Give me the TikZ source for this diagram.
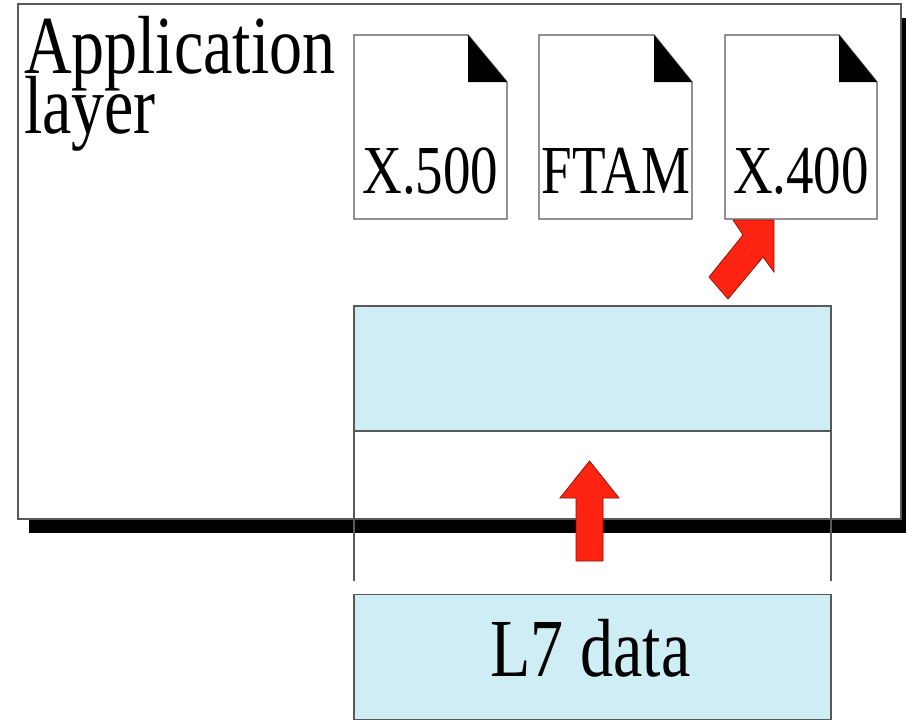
\documentclass[tikz,border=0pt]{standalone}
\usepackage{fontspec}
\usepackage{graphicx}
\usepackage{xcolor}
\setmainfont{Liberation Serif}
\definecolor{paleblue}{HTML}{CFEDF4}
\definecolor{arrowred}{HTML}{FF2412}
\newcommand{\tall}[1]{\scalebox{1}[1.25]{#1}}

\begin{document}
\begin{tikzpicture}[x=1pt,y=-1pt,inner sep=0pt,outer sep=0pt,
 layerbox/.style={draw=black!65,line width=1.4pt,fill=white,minimum width=883pt,minimum height=515pt},
 shadowbox/.style={fill=black,minimum width=877pt,minimum height=515pt},
 datablock/.style={draw=black!65,line width=1.4pt,fill=paleblue,minimum width=477pt,minimum height=125pt},
 page/.style={draw=black!65,line width=1.4pt,fill=white},
 corner/.style={fill=black},
 wire/.style={draw=black!65,line width=1.4pt},
 bigarrow/.style={draw=arrowred!55!black,line width=.8pt,fill=arrowred},
 bigtext/.style={anchor=base west,font=\fontsize{66}{66}\selectfont},
 doctext/.style={anchor=base,font=\fontsize{55}{55}\selectfont}]
 \useasboundingbox (0,0) rectangle (906,721);

 \node[shadowbox] (shadow) at (467.5,275.5) {};
 \node[layerbox] (layer) at (459.5,261.5) {};
 \node[bigtext] (app) at (24,73) {\tall{Application}};
 \node[bigtext] (lay) at (24,133) {\tall{layer}};

 % the three documents
 \draw[page] (354,35) -- (468,35) -- (507,82) -- (507,219) -- (354,219) -- cycle;
 \fill[corner] (468,35) -- (507,82) -- (468,82) -- cycle;
 \node[doctext] (xfive) at (430.5,193) {\tall{X.500}};

 \draw[page] (539,35) -- (654,35) -- (692,82) -- (692,219) -- (539,219) -- cycle;
 \fill[corner] (654,35) -- (692,82) -- (654,82) -- cycle;
 \node[doctext] (ftam) at (616,193) {\tall{FTAM}};

 \draw[page] (725,35) -- (839,35) -- (877,82) -- (877,219) -- (725,219) -- cycle;
 \fill[corner] (839,35) -- (877,82) -- (839,82) -- cycle;
 \node[doctext] (xfour) at (801,193) {\tall{X.400}};

 \draw[bigarrow] (709,277) -- (743,235) -- (733,220) -- (774,220)
  -- (774,272) -- (763,257) -- (728,299) -- cycle;

 \node[datablock] (upper) at (592.5,368.5) {};
 \node[datablock] (lower) at (592.5,657) {};
 \node[bigtext,anchor=base] (l7) at (590.5,676) {\tall{L7 data}};

 \coordinate (leftend) at (354,581);
 \coordinate (rightend) at (831,581);
 \draw[wire] (upper.south west) -- (leftend);
 \draw[wire] (upper.south east) -- (rightend);

 \draw[bigarrow] (589.5,461) -- (619,498) -- (603,498) -- (603,561)
  -- (576,561) -- (576,498) -- (560,498) -- cycle;
\end{tikzpicture}
\end{document}
